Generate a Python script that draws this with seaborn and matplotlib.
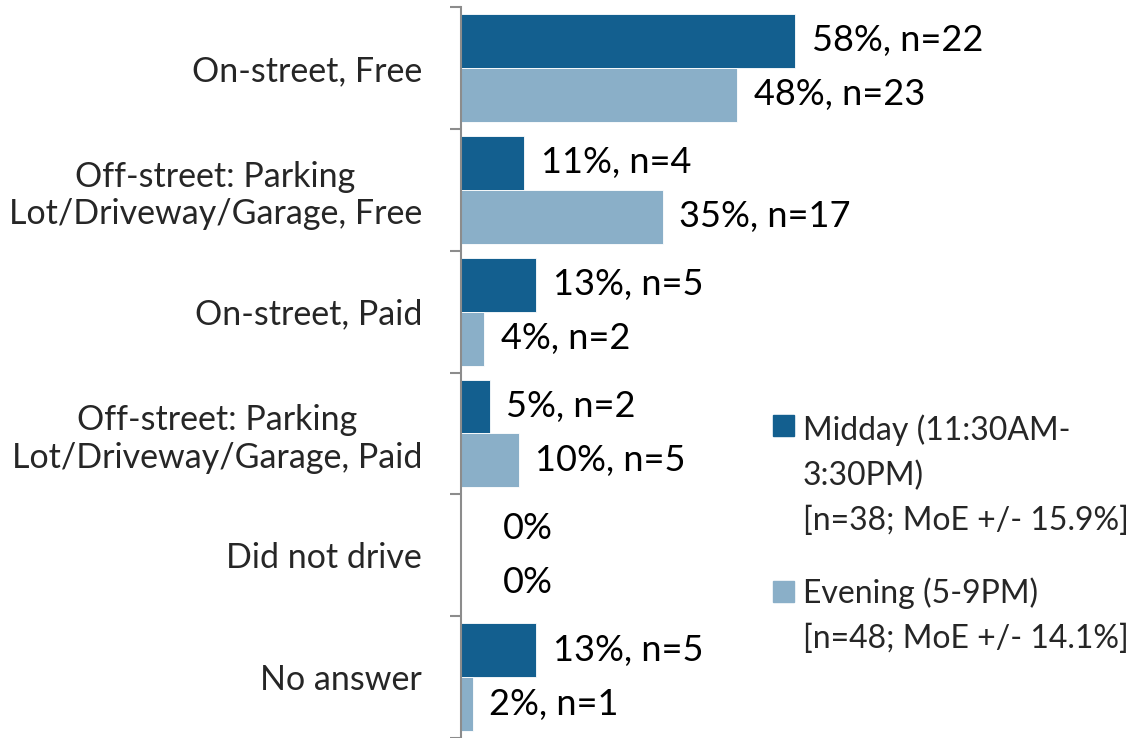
import matplotlib.pyplot as plt
import matplotlib.patches as mpatches
import seaborn as sns
import pandas as pd

# data
categories = ['On-street, Free',
              'Off-street: Parking\nLot/Driveway/Garage, Free',
              'On-street, Paid',
              'Off-street: Parking\nLot/Driveway/Garage, Paid',
              'Did not drive',
              'No answer']
midday_pct = [58, 11, 13, 5, 0, 13]
midday_n = [22, 4, 5, 2, 0, 5]
evening_pct = [48, 35, 4, 10, 0, 2]
evening_n = [23, 17, 2, 5, 0, 1]
series = ['Midday (11:30AM-\n3:30PM)\n[n=38; MoE +/- 15.9%]',
          'Evening (5-9PM)\n[n=48; MoE +/- 14.1%]']
colors = ['#135F8F', '#8AAFC8']

rows = []
for i, c in enumerate(categories):
    rows.append({'cat': c, 'period': series[0], 'pct': midday_pct[i], 'n': midday_n[i]})
    rows.append({'cat': c, 'period': series[1], 'pct': evening_pct[i], 'n': evening_n[i]})
df = pd.DataFrame(rows)

sns.set_style('white')
plt.rcParams['font.family'] = ['Lato', 'DejaVu Sans']

fig = plt.figure(figsize=(11.44, 7.38), dpi=100)
ax = fig.add_axes([0.403, 0.0, 0.597, 0.9905])

sns.barplot(data=df, y='cat', x='pct', hue='period', palette=colors,
            orient='h', width=0.885, ax=ax, legend=False, saturation=1,
            errorbar=None, edgecolor='white', linewidth=0.6)

ax.set_xlim(0, 118.6)
ax.set_ylim(5.5, -0.5)
ax.set_xlabel('')
ax.set_ylabel('')
ax.set_xticks([])

# value labels
vals = [midday_pct, evening_pct]
ns = [midday_n, evening_n]
for k, cont in enumerate(ax.containers):
    for i, bar in enumerate(cont):
        p = vals[k][i]
        txt = '0%' if p == 0 else f'{p}%, n={ns[k][i]}'
        off = 30 if p == 0 else 12
        ax.annotate(txt, (bar.get_width(), bar.get_y() + bar.get_height() / 2),
                    xytext=(off, 0), textcoords='offset points',
                    va='center', ha='left', fontsize=26, color='black')

# axis styling
for s in ['top', 'right', 'bottom']:
    ax.spines[s].set_visible(False)
ax.spines['left'].set_color('#8C8C8C')
ax.spines['left'].set_linewidth(1.5)
ax.tick_params(axis='y', which='major', left=False, length=0, pad=28, labelsize=24.5)
ax.set_yticks([i - 0.5 for i in range(7)], minor=True)
ax.tick_params(axis='y', which='minor', left=True, length=8, width=1.5, color='#8C8C8C')
for lab in ax.get_yticklabels():
    lab.set_multialignment('center')

# legend drawn by hand so squares line up with the first text line
sq_w, sq_h = 21 / 1144, 21 / 738
line_step = 45 / 738
for col, sq_y, base_y, lab in [(colors[0], 0.4092, (738 - 440) / 738, series[0]),
                               (colors[1], 0.1843, (738 - 603) / 738, series[1])]:
    fig.add_artist(mpatches.Rectangle((0.6757, sq_y), sq_w, sq_h,
                                      transform=fig.transFigure, color=col))
    for j, line in enumerate(lab.split('\n')):
        fig.text(0.7019, base_y - j * line_step, line, fontsize=23,
                 va='baseline', ha='left')

plt.savefig('out.png', dpi=100)
